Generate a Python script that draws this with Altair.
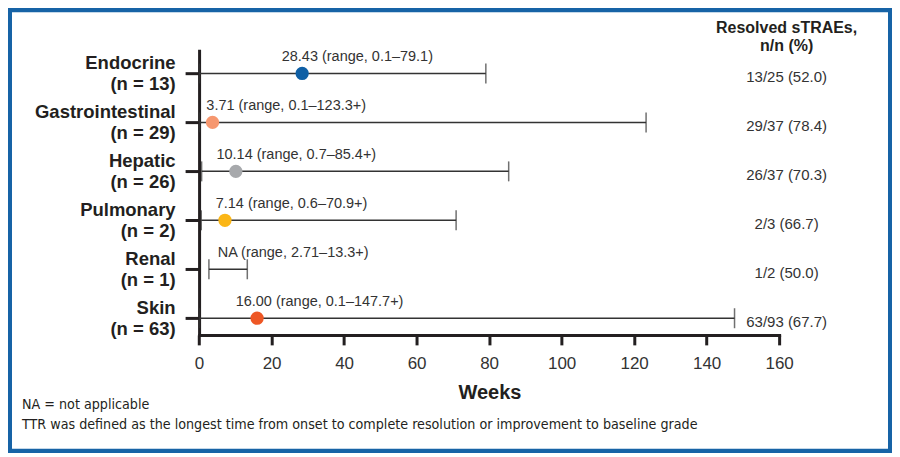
import altair as alt
import pandas as pd

names = ["Endocrine", "Gastrointestinal", "Hepatic", "Pulmonary", "Renal", "Skin"]
n_pts = [13, 29, 26, 2, 1, 63]
median = [28.43, 3.71, 10.14, 7.14, None, 16.00]
median_txt = ["28.43", "3.71", "10.14", "7.14", "NA", "16.00"]
low = [0.1, 0.1, 0.7, 0.6, 2.71, 0.1]
low_txt = ["0.1", "0.1", "0.7", "0.6", "2.71", "0.1"]
high = [79.1, 123.3, 85.4, 70.9, 13.3, 147.7]
high_txt = ["79.1", "123.3+", "85.4+", "70.9+", "13.3+", "147.7+"]
resolved = ["13/25 (52.0)", "29/37 (78.4)", "26/37 (70.3)", "2/3 (66.7)", "1/2 (50.0)", "63/93 (67.7)"]
label_at = [22.8, 2.0, 4.8, 4.6, 5.15, 10.1]
dot_colors = ["#0f5fa5", "#f6976f", "#a7a9ac", "#fbb616", "#ffffff", "#ee5725"]
x_ticks = [0, 20, 40, 60, 80, 100, 120, 140, 160]
footnotes = ["NA = not applicable",
             "TTR was defined as the longest time from onset to complete resolution or improvement to baseline grade"]

rows = [f"{a}|(n = {b})|{c}" for a, b, c in zip(names, n_pts, resolved)]
df = pd.DataFrame({
    "row": rows, "name": names, "median": median, "low": low, "high": high,
    "label": [f"{m} (range, {l}\u2013{h})" for m, l, h in zip(median_txt, low_txt, high_txt)],
    "label_at": label_at,
})

FONT = "Liberation Sans, Arial, sans-serif"
DARK = "#231f20"
GREY = "#333333"

xscale = alt.Scale(domain=[0, 160], range=[191.3, 772], nice=False, zero=False)
yscale = alt.Scale(type="point", domain=rows, range=[41, 327], padding=0.418, align=0.593)

xaxis = alt.Axis(orient="bottom", offset=-118, values=x_ticks, grid=False,
                 domainColor=DARK, domainWidth=3, domainCap="square",
                 tickColor=DARK, tickWidth=3, tickSize=10,
                 labelFontSize=17, labelColor=GREY, labelPadding=11, labelFont=FONT,
                 labelFlush=False,
                 title="Weeks", titleFontSize=20, titleFontWeight="bold", titleColor=DARK,
                 titleFont=FONT, titleX=482, titleY=58, titleBaseline="middle", titleAlign="center")

yaxis_left = alt.Axis(orient="left", offset=-191.3, grid=False, title=None,
                      domainColor=DARK, domainWidth=3, tickColor=DARK, tickWidth=3, tickSize=14,
                      labelExpr="[split(datum.label, '|')[0], split(datum.label, '|')[1]]",
                      labelFontSize=18.5, labelFontWeight="bold", labelLineHeight=21,
                      labelOffset=-10.5,
                      labelPadding=10, labelColor=DARK, labelFont=FONT, labelOverlap=False)

yaxis_right = alt.Axis(orient="right", offset=-106, grid=False, domain=False, ticks=False,
                       labelExpr="split(datum.label, '|')[2]", labelAlign="center",
                       labelPadding=0, labelFontSize=15, labelColor=GREY, labelOffset=3,
                       labelFont=FONT, labelOverlap=False,
                       title=["Resolved sTRAEs,", "n/n (%)"], titleAngle=0, titleX=0, titleY=24,
                       titleAlign="center", titleBaseline="alphabetic", titleFontSize=16,
                       titleFontWeight="bold", titleLineHeight=18, titleColor=DARK, titleFont=FONT)

base = alt.Chart(df)

ranges = base.mark_rule(strokeWidth=1.5, color=GREY).encode(
    x=alt.X("low:Q", scale=xscale, axis=xaxis),
    x2="high:Q",
    y=alt.Y("row:N", scale=yscale, axis=yaxis_left),
)
cap_lo = base.mark_tick(orient="vertical", size=20, thickness=1.5, color=GREY).encode(
    x=alt.X("low:Q"), y=alt.Y("row:N", axis=None))
cap_hi = base.mark_tick(orient="vertical", size=20, thickness=1.5, color=GREY).encode(
    x=alt.X("high:Q"), y=alt.Y("row:N", axis=None))
dots = base.mark_circle(size=177, opacity=1).transform_filter("isValid(datum.median)").encode(
    x=alt.X("median:Q"), y=alt.Y("row:N", axis=None),
    color=alt.Color("name:N", scale=alt.Scale(domain=names, range=dot_colors), legend=None))
texts = base.mark_text(align="left", baseline="middle", dy=-16.6, fontSize=14.5,
                       color=GREY, font=FONT).encode(
    x=alt.X("label_at:Q"), y=alt.Y("row:N", axis=yaxis_right), text="label:N")

chart = alt.layer(ranges, cap_lo, cap_hi, dots, texts).resolve_axis(y="independent").properties(
    width=885, height=445, padding=0,
    title=alt.TitleParams(text=footnotes, orient="bottom", anchor="start", frame="group",
                          offset=-55, dx=14, fontSize=14.2, fontWeight="normal",
                          font="Liberation Sans Narrow, DejaVu Sans Condensed, sans-serif",
                          color=DARK, lineHeight=20, baseline="top"),
).configure(background="white").configure_view(stroke="#1763a6", strokeWidth=8)

chart.save("out.html", embed_options={"renderer": "svg", "actions": False})
